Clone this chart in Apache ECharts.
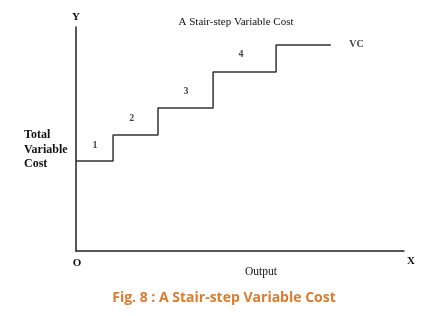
<!DOCTYPE html>
<html><head><meta charset="utf-8">
<script src="https://cdn.jsdelivr.net/npm/echarts@6/dist/echarts.min.js"></script>
<style>html,body{margin:0;padding:0;background:#fff}#c{width:426px;height:316px}</style>
</head><body><div id="c"></div>
<script>
// Stair-step points (output, total variable cost), arbitrary units
const stepX = [0, 11.3, 25, 41.8, 61, 77.7];
const stepY = [40.2, 51.8, 63.8, 79.9, 92, 92];
// Step number labels: [x, y, text]
const stepLabels = [[5.8, 47.3, '1'], [17, 59.4, '2'], [33.5, 71.4, '3'], [50.3, 87.9, '4']];
const curveLabel = [85.5, 92, 'VC'];
const titleText = 'A Stair-step Variable Cost';
const captionText = 'Fig. 8 : A Stair-step Variable Cost';
const yName = ['Total', 'Variable', 'Cost'];

const serif = '"Liberation Serif", "DejaVu Serif", serif';
const chart = echarts.init(document.getElementById('c'), null, {renderer: 'canvas'});
chart.setOption({
  animation: false,
  backgroundColor: '#fff',
  title: {text: titleText, left: 231, top: 12, textAlign: 'center',
    textStyle: {fontFamily: serif, fontSize: 11, fontWeight: 'normal', color: '#111'}},
  grid: {left: 76, right: 22, top: 27, bottom: 65},
  xAxis: {type: 'value', min: 0, max: 100, splitLine: {show: false},
    axisLine: {lineStyle: {color: '#222', width: 1.5}}, axisTick: {show: false}, axisLabel: {show: false},
    name: 'X', nameLocation: 'end', nameGap: 3,
    nameTextStyle: {fontFamily: serif, fontWeight: 'bold', fontSize: 11, color: '#111', verticalAlign: 'top', padding: [5, 0, 0, 0]}},
  yAxis: {type: 'value', min: 0, max: 100, splitLine: {show: false},
    axisLine: {lineStyle: {color: '#222', width: 1.5}}, axisTick: {show: false}, axisLabel: {show: false},
    name: 'Y', nameLocation: 'end', nameGap: 4,
    nameTextStyle: {fontFamily: serif, fontWeight: 'bold', fontSize: 11, color: '#111'}},
  series: [
    {type: 'line', step: 'end', symbol: 'none', data: stepX.map((x, i) => [x, stepY[i]]),
      lineStyle: {color: '#333', width: 1.5}},
    {type: 'scatter', symbolSize: 0, data: stepLabels.concat([curveLabel]).map(d => ({value: [d[0], d[1]], name: d[2]})),
      label: {show: true, position: 'inside', formatter: p => p.name,
        fontFamily: serif, fontWeight: 'bold', fontSize: 10, color: '#111'}}
  ],
  graphic: [
    {type: 'text', left: 24, top: 128, style: {text: yName.join('\n'), font: 'bold 12px ' + serif, lineHeight: 14.5, fill: '#111'}},
    {type: 'text', x: 77, y: 263, style: {text: 'O', font: 'bold 11px ' + serif, fill: '#111', textAlign: 'center', textVerticalAlign: 'middle'}},
    {type: 'text', x: 261, y: 272, style: {text: 'Output', font: '11.5px ' + serif, fill: '#111', textAlign: 'center', textVerticalAlign: 'middle'}},
    {type: 'text', x: 224, y: 298, style: {text: captionText, font: 'bold 14px "Open Sans", sans-serif', fill: '#E07A2C', textAlign: 'center', textVerticalAlign: 'middle'}}
  ]
});
</script></body></html>
